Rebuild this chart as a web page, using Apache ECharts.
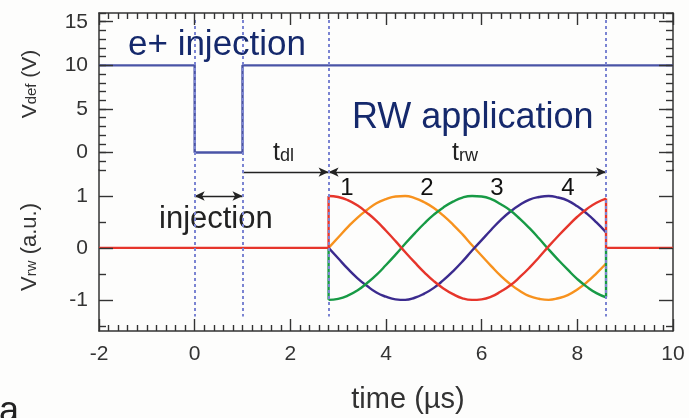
<!DOCTYPE html>
<html>
<head>
<meta charset="utf-8">
<script src="https://cdn.jsdelivr.net/npm/echarts@6/dist/echarts.min.js"></script>
<style>
  html, body { margin: 0; padding: 0; background: #fdfdfc; }
  #chart { width: 689px; height: 418px; }
</style>
</head>
<body>
<div id="chart"></div>
<script>
// deflector voltage (step)
var defTimes = [-2, 0, 0, 1, 1, 10];
var defVolts = [10, 10, 0, 0, 10, 10];

// dashed guide lines
var guideTimes = [0, 1, 2.8, 8.6];

// rotating wall electrodes 1-4
var rwTimes = [2.8, 3.0, 3.2, 3.4, 3.6, 3.8, 4.0, 4.2, 4.4, 4.6, 4.8, 5.0, 5.2, 5.4, 5.6,
               5.8, 6.0, 6.2, 6.4, 6.6, 6.8, 7.0, 7.2, 7.4, 7.6, 7.8, 8.0, 8.2, 8.4, 8.6];
var rw1 = [1.00, 0.98, 0.92, 0.82, 0.68, 0.52, 0.33, 0.13, -0.08, -0.28, -0.47, -0.64, -0.78, -0.89, -0.97,
           -1.00, -0.99, -0.94, -0.84, -0.72, -0.56, -0.38, -0.18, 0.03, 0.23, 0.42, 0.60, 0.75, 0.87, 0.95];
var rw2 = [0.00, 0.20, 0.40, 0.58, 0.73, 0.86, 0.94, 0.99, 1.00, 0.96, 0.88, 0.77, 0.62, 0.45, 0.26,
           0.05, -0.15, -0.35, -0.54, -0.70, -0.83, -0.93, -0.98, -1.00, -0.97, -0.91, -0.80, -0.66, -0.49, -0.30];
var rw3 = [-1.00, -0.98, -0.92, -0.82, -0.68, -0.52, -0.33, -0.13, 0.08, 0.28, 0.47, 0.64, 0.78, 0.89, 0.97,
           1.00, 0.99, 0.94, 0.84, 0.72, 0.56, 0.38, 0.18, -0.03, -0.23, -0.42, -0.60, -0.75, -0.87, -0.95];
var rw4 = [0.00, -0.20, -0.40, -0.58, -0.73, -0.86, -0.94, -0.99, -1.00, -0.96, -0.88, -0.77, -0.62, -0.45, -0.26,
           -0.05, 0.15, 0.35, 0.54, 0.70, 0.83, 0.93, 0.98, 1.00, 0.97, 0.91, 0.80, 0.66, 0.49, 0.30];

// tick labels / tick positions
var vdefTicks = [0, 5, 10, 15];
var vrwTicks = [-1, 0, 1];
var vrwMinor = [-1.5, -0.5, 0.5];

var XMIN = -2, XMAX = 10, XSTEP = 2, XMINOR = 0.2;
var TOP = { min: -2, max: 16 }, BOT = { min: -1.6, max: 1.5 };
var G_LEFT = 99, G_W = 574, G0_TOP = 13, G0_H = 157, G1_TOP = 170, G1_H = 161;

var FONT = "'Liberation Sans', Arial, sans-serif";
var AX = '#333';
var RED = '#e6352b', ORANGE = '#f7921e', GREEN = '#179a45', PURPLE = '#3b2b8e';
var GUIDE = '#7b84d2';
var NAVY = '#15296c';
var TICK = { color: AX, width: 1.4, type: 'solid' };

function zip(xs, ys) {
  return xs.map(function (x, i) { return [x, ys[i]]; });
}

var chart = echarts.init(document.getElementById('chart'));

function xAxis(grid, pos, labels) {
  return {
    type: 'value', gridIndex: grid, position: pos,
    min: XMIN, max: XMAX, interval: XSTEP,
    axisLine: { show: true, onZero: false, lineStyle: { color: AX, width: 1.5 } },
    axisTick: { show: false },
    minorTick: { show: false },
    axisLabel: { show: labels, fontSize: 21, color: AX, margin: 13, fontFamily: FONT },
    splitLine: { show: false }
  };
}

function yAxis(grid, pos, range, step, labels) {
  return {
    type: 'value', gridIndex: grid, position: pos, min: range.min, max: range.max, interval: step,
    axisLine: { show: true, onZero: false, lineStyle: { color: AX, width: 1.5 } },
    axisTick: { show: false },
    axisLabel: labels ? {
      show: true, fontSize: 21, color: AX, margin: 11, fontFamily: FONT,
      formatter: function (v) {
        var r = Math.round(v * 10) / 10;
        return labels.indexOf(r) >= 0 ? String(r) : '';
      }
    } : { show: false },
    splitLine: { show: false }
  };
}

var defMinor = [];
for (var v = TOP.min; v <= TOP.max; v++) defMinor.push(v);

// inward tick marks of the frame, as short segments in data space
function tickMarks(range, h, minor, major, edge) {
  var ux = G_W / (XMAX - XMIN), uy = h / (range.max - range.min);
  var out = [];
  function seg(a, b) { out.push([{ coord: a, lineStyle: TICK }, { coord: b }]); }
  function side(vals, len) {
    vals.forEach(function (val) {
      seg([XMIN, val], [XMIN + len / ux, val]);
      seg([XMAX, val], [XMAX - len / ux, val]);
    });
  }
  side(minor, 7);
  side(major, 14);
  var y0 = edge === 'top' ? range.max : range.min;
  var dir = edge === 'top' ? -1 : 1;
  var count = Math.round((XMAX - XMIN) / XMINOR);
  var per = Math.round(XSTEP / XMINOR);
  for (var i = 0; i <= count; i++) {
    var x = Math.round((XMIN + i * XMINOR) * 100) / 100;
    var len = (i % per === 0) ? 12 : 6;
    seg([x, y0], [x, y0 + dir * len / uy]);
  }
  return out;
}

function guides(top, bottom) {
  return guideTimes.map(function (t) {
    return [{ coord: [t, top] }, { coord: [t, bottom] }];
  });
}

function curve(data, color, extra) {
  var s = {
    type: 'line', xAxisIndex: 1, yAxisIndex: 2, data: data,
    showSymbol: false, symbol: 'none', smooth: true,
    lineStyle: { color: color, width: 2.4 }
  };
  for (var k in extra) s[k] = extra[k];
  return s;
}

function edge(data, color) {
  return {
    type: 'line', xAxisIndex: 1, yAxisIndex: 2, data: data,
    symbol: 'none', smooth: false, lineStyle: { color: color, width: 2.4 }
  };
}

var n = rwTimes.length - 1;
var tStart = rwTimes[0], tEnd = rwTimes[n];

function arrow(x0, x1, y, s0, s1) {
  return [
    { coord: [x0, y], symbol: s0, symbolSize: [7, 10],
      lineStyle: { color: '#222', width: 1.4, type: 'solid' } },
    { coord: [x1, y], symbol: s1, symbolSize: [7, 10] }
  ];
}

function label(x, y, text, size, color, align) {
  return { type: 'text', x: x, y: y, style: { text: text, fontSize: size, fontFamily: FONT,
    fill: color, align: align || 'left', verticalAlign: 'middle' } };
}

function subLabel(x, y, main, sub) {
  return { type: 'text', x: x, y: y, style: { text: '{t|' + main + '}{s|' + sub + '}',
    fontFamily: FONT, fill: '#222', verticalAlign: 'middle',
    rich: { t: { fontSize: 25, fill: '#222', verticalAlign: 'bottom' },
            s: { fontSize: 18, fill: '#222', verticalAlign: 'bottom' } } } };
}

function axisTitle(y, sub, unit, size) {
  return { type: 'text', x: 30, y: y, rotation: Math.PI / 2,
    style: { text: '{v|V}{s|' + sub + '}{v| ' + unit + '}', fontFamily: FONT, fill: AX,
      align: 'center', verticalAlign: 'middle',
      rich: { v: { fontSize: size, fill: AX }, s: { fontSize: 15, fill: AX, padding: [4, 0, 0, 0] } } } };
}

var option = {
  animation: false,
  backgroundColor: '#fdfdfc',
  textStyle: { fontFamily: FONT },
  grid: [
    { left: G_LEFT, top: G0_TOP, width: G_W, height: G0_H },
    { left: G_LEFT, top: G1_TOP, width: G_W, height: G1_H }
  ],
  xAxis: [xAxis(0, 'top', false), xAxis(1, 'bottom', true)],
  yAxis: [
    yAxis(0, 'left', TOP, 1, vdefTicks),
    yAxis(0, 'right', TOP, 1, null),
    yAxis(1, 'left', BOT, 0.1, vrwTicks),
    yAxis(1, 'right', BOT, 0.1, null)
  ],
  series: [
    {
      type: 'line', xAxisIndex: 0, yAxisIndex: 0,
      data: zip(defTimes, defVolts), symbol: 'none',
      lineStyle: { color: '#4a54a6', width: 2.4 },
      markLine: {
        silent: true, symbol: 'none', label: { show: false },
        lineStyle: { color: GUIDE, width: 2, type: [3, 3] },
        data: guides(15.2, TOP.min).concat(tickMarks(TOP, G0_H, defMinor, vdefTicks, 'top'))
      }
    },
    curve(zip(rwTimes, rw2), ORANGE),
    curve(zip(rwTimes, rw4), PURPLE),
    curve(zip(rwTimes, rw3), GREEN, {
      markLine: {
        silent: true, label: { show: false },
        data: [
          arrow(guideTimes[1], tStart, 1.46, 'none', 'arrow'),
          arrow(tStart, tEnd, 1.46, 'arrow', 'arrow'),
          arrow(guideTimes[0], guideTimes[1], 1.0, 'arrow', 'arrow')
        ]
      }
    }),
    curve(zip(rwTimes, rw1), RED, {
      markLine: {
        silent: true, symbol: 'none', label: { show: false },
        lineStyle: { color: GUIDE, width: 2, type: [3, 3] },
        data: guides(BOT.max, -1.32).concat(tickMarks(BOT, G1_H, vrwMinor, vrwTicks, 'bottom'))
      }
    }),
    edge([[tStart, 0], [tStart, rw3[0]]], GREEN),
    edge([[tEnd, rw3[n]], [tEnd, 0]], GREEN),
    edge([[XMIN, 0], [tStart, 0], [tStart, rw1[0]]], RED),
    edge([[tEnd, rw1[n]], [tEnd, 0], [XMAX, 0]], RED)
  ],
  graphic: [
    label(128, 45, 'e+ injection', 35, NAVY),
    label(352, 118, 'RW application', 36, NAVY),
    label(159, 219, 'injection', 31, '#222'),
    subLabel(273, 153, 't', 'dl'),
    subLabel(452, 153, 't', 'rw'),
    label(347, 188, '1', 24, '#111', 'center'),
    label(427, 188, '2', 24, '#111', 'center'),
    label(497, 188, '3', 24, '#111', 'center'),
    label(568, 188, '4', 24, '#111', 'center'),
    axisTitle(84, 'def', '(V)', 21),
    axisTitle(247, 'rw', '(a.u.)', 22),
    label(408, 400, 'time (\u00b5s)', 29, AX, 'center'),
    label(-1, 412, 'a', 36, '#222')
  ]
};

chart.setOption(option);
</script>
</body>
</html>
